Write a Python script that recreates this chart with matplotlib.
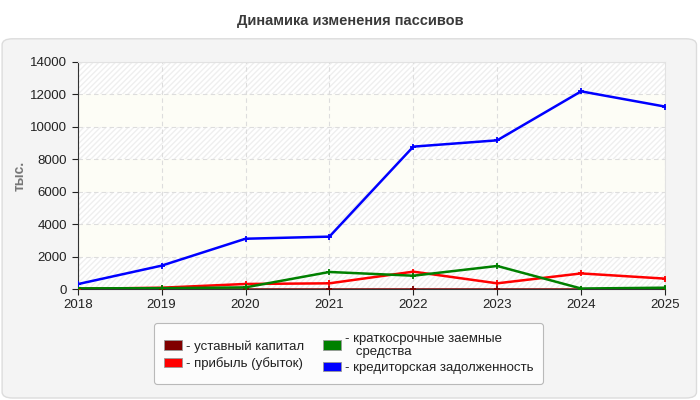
import matplotlib
matplotlib.use("Agg")
import matplotlib.pyplot as plt
from matplotlib.patches import FancyBboxPatch, Rectangle

plt.rcParams['font.family'] = ['Liberation Sans', 'DejaVu Sans']

# data (тыс.)
years = [2018, 2019, 2020, 2021, 2022, 2023, 2024, 2025]
ustavny = [10, 10, 10, 10, 10, 10, 10, 10]
pribyl = [10, 80, 310, 350, 1070, 350, 960, 640]
kratkosroch = [40, 50, 100, 1050, 820, 1420, 30, 80]
kreditor = [300, 1440, 3100, 3230, 8780, 9170, 12190, 11250]

series = [
    ('- уставный капитал', ustavny, '#800000'),
    ('- прибыль (убыток)', pribyl, '#ff0000'),
    ('- краткосрочные заемные\n   средства', kratkosroch, '#008000'),
    ('- кредиторская задолженность', kreditor, '#0000ff'),
]

fig = plt.figure(figsize=(7, 4), dpi=100)
fig.patch.set_facecolor('white')

# outer panel
panel = FancyBboxPatch((0.003, 0.005), 0.992, 0.898,
                       boxstyle='round,pad=0,rounding_size=0.015',
                       transform=fig.transFigure, facecolor='#f4f4f4',
                       edgecolor='#dcdcdc', linewidth=1.0, zorder=-10)
fig.patches.append(panel)

fig.text(0.5, 0.948, 'Динамика изменения пассивов', ha='center', va='center',
         fontsize=10.5, fontweight='bold', color='#3a3a3a')

ax = fig.add_axes([0.111, 0.2775, 0.839, 0.5675])
ax.set_facecolor('#ffffff')

# alternating bands
for i, lo in enumerate(range(0, 14000, 2000)):
    hatched = (i % 2 == 0)
    ax.add_patch(Rectangle((2018, lo), 7, 2000,
                           facecolor='#fdfdf6' if not hatched else 'white',
                           edgecolor='#efefef' if hatched else 'none',
                           hatch='//////' if hatched else None,
                           linewidth=0, zorder=0))

ax.grid(True, color='#dddddd', linestyle=(0, (4, 3)), linewidth=0.8, zorder=1)

for label, vals, col in series:
    ax.plot(years, vals, color=col, linewidth=1.8, marker='+', markersize=5,
            markeredgewidth=1.3, zorder=3)

ax.set_xlim(2018, 2025)
ax.set_ylim(0, 14000)
ax.set_xticks(years)
ax.set_yticks(range(0, 14001, 2000))
ax.tick_params(labelsize=9.5, colors='#222222', length=4, width=0.8)
for s in ['top', 'right']:
    ax.spines[s].set_color('#e2e2e2')
for s in ['left', 'bottom']:
    ax.spines[s].set_color('#333333')
ax.set_ylabel('тыс.', fontsize=10, fontweight='bold', color='#777777')
ax.yaxis.set_label_coords(-0.087, 0.5)

# legend
handles = [FancyBboxPatch((0, 0), 1, 1, boxstyle='round,pad=0.1',
                          facecolor=c, edgecolor='#999999', linewidth=0.6)
           for _, _, c in series]
labels = [l for l, _, _ in series]
leg = fig.legend(handles, labels, loc='center', bbox_to_anchor=(0.498, 0.116),
                 ncol=2, fontsize=9.5, frameon=True, fancybox=True,
                 edgecolor='#aaaaaa', facecolor='white',
                 handlelength=1.4, handleheight=0.7, handletextpad=0.3,
                 columnspacing=1.4, labelspacing=0.35, borderpad=0.7)
leg.get_frame().set_linewidth(0.8)
for t in leg.get_texts():
    t.set_color('#222222')
    t.set_linespacing(1.1)

fig.savefig('out.png', dpi=100, facecolor=fig.get_facecolor())
